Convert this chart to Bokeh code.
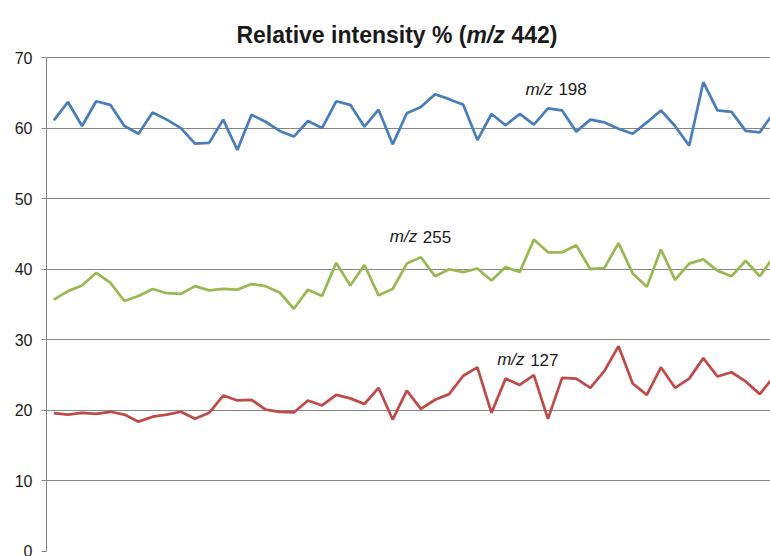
from bokeh.plotting import figure
from bokeh.models import Range1d, Label, FixedTicker
from bokeh.embed import file_html
from bokeh.resources import INLINE

# ---- data ----
runs = list(range(1, 53))
mz198 = [61.1, 63.7, 60.3, 63.8, 63.3, 60.3, 59.2, 62.2, 61.2, 60.0,
         57.8, 57.9, 61.2, 56.9, 61.9, 60.9, 59.6, 58.8, 61.0, 60.0,
         63.8, 63.3, 60.2, 62.6, 57.7, 62.1, 63.0, 64.8, 64.1, 63.3,
         58.3, 62.0, 60.4, 62.0, 60.5, 62.8, 62.5, 59.5, 61.2, 60.8,
         59.9, 59.2, 60.8, 62.5, 60.3, 57.5, 66.5, 62.5, 62.3, 59.6,
         59.4, 62.2]
mz255 = [35.7, 36.9, 37.7, 39.5, 38.1, 35.5, 36.2, 37.2, 36.6, 36.5,
         37.6, 37.0, 37.2, 37.1, 37.9, 37.6, 36.7, 34.4, 37.1, 36.2,
         40.9, 37.7, 40.6, 36.3, 37.2, 40.8, 41.7, 39.0, 40.0, 39.6,
         40.1, 38.4, 40.3, 39.6, 44.2, 42.4, 42.4, 43.4, 40.0, 40.2,
         43.7, 39.4, 37.5, 42.8, 38.5, 40.8, 41.4, 39.8, 39.0, 41.2,
         39.0, 41.8]
mz127 = [19.6, 19.4, 19.65, 19.5, 19.8, 19.4, 18.4, 19.1, 19.4, 19.8,
         18.8, 19.65, 22.1, 21.4, 21.5, 20.1, 19.8, 19.7, 21.4, 20.7,
         22.2, 21.7, 20.9, 23.2, 18.7, 22.8, 20.2, 21.5, 22.3, 24.9,
         26.1, 19.65, 24.5, 23.6, 25.0, 18.8, 24.6, 24.5, 23.2, 25.6,
         29.1, 23.8, 22.2, 26.1, 23.2, 24.5, 27.4, 24.8, 25.4, 24.1,
         22.3, 24.8]
y_ticks = [0, 10, 20, 30, 40, 50, 60, 70]
series_names = ["198", "255", "127"]

FONT = "Liberation Sans"
GRID = "#878787"
TXT = "#1a1a1a"

p = figure(width=770, height=556, output_backend="svg", toolbar_location=None,
           x_range=Range1d(0.483, 51.76), y_range=Range1d(0, 78.08),
           min_border_left=46, min_border_right=0, min_border_top=0,
           min_border_bottom=5)
p.outline_line_color = None
p.background_fill_color = "white"
p.border_fill_color = "white"

p.xaxis.visible = False
p.xgrid.visible = False

p.yaxis.ticker = FixedTicker(ticks=y_ticks)
p.yaxis.bounds = (0, 70)
p.yaxis.axis_line_color = GRID
p.yaxis.major_tick_line_color = GRID
p.yaxis.major_tick_out = 5
p.yaxis.major_tick_in = 0
p.yaxis.minor_tick_line_color = None
p.yaxis.major_label_standoff = 9
p.yaxis.major_label_text_font = FONT
p.yaxis.major_label_text_font_size = "16px"
p.yaxis.major_label_text_color = TXT
p.ygrid.grid_line_color = GRID
p.ygrid.grid_line_width = 1

p.line(runs, mz198, line_color="#4A7EBB", line_width=2.75)
p.line(runs, mz255, line_color="#98B954", line_width=2.75)
p.line(runs, mz127, line_color="#BE4B48", line_width=2.75)

# series annotations
for name, x, y in [(series_names[0], 34.4, 65.5),
                   (series_names[1], 24.8, 44.6),
                   (series_names[2], 32.4, 27.2)]:
    p.add_layout(Label(x=x, y=y, text="m/z", text_font=FONT, text_font_size="17px",
                       text_font_style="italic", text_color=TXT,
                       text_baseline="middle", text_align="left"))
    p.add_layout(Label(x=x, y=y, x_offset=33, text=name, text_font=FONT,
                       text_font_size="17px", text_color=TXT,
                       text_baseline="middle", text_align="left"))

# title pieces (bold, with italic m/z)
ty = 73.26
p.add_layout(Label(x=420, y=ty, x_units="screen", text="Relative intensity % (",
                   text_font=FONT, text_font_size="23px", text_font_style="bold",
                   text_color=TXT, text_align="right", text_baseline="alphabetic"))
p.add_layout(Label(x=420, y=ty, x_units="screen", text="m/z",
                   text_font=FONT, text_font_size="23px", text_font_style="bold italic",
                   text_color=TXT, text_align="left", text_baseline="alphabetic"))
p.add_layout(Label(x=465, y=ty, x_units="screen", text="442)",
                   text_font=FONT, text_font_size="23px", text_font_style="bold",
                   text_color=TXT, text_align="left", text_baseline="alphabetic"))

open("out.html", "w").write(file_html(p, INLINE))
